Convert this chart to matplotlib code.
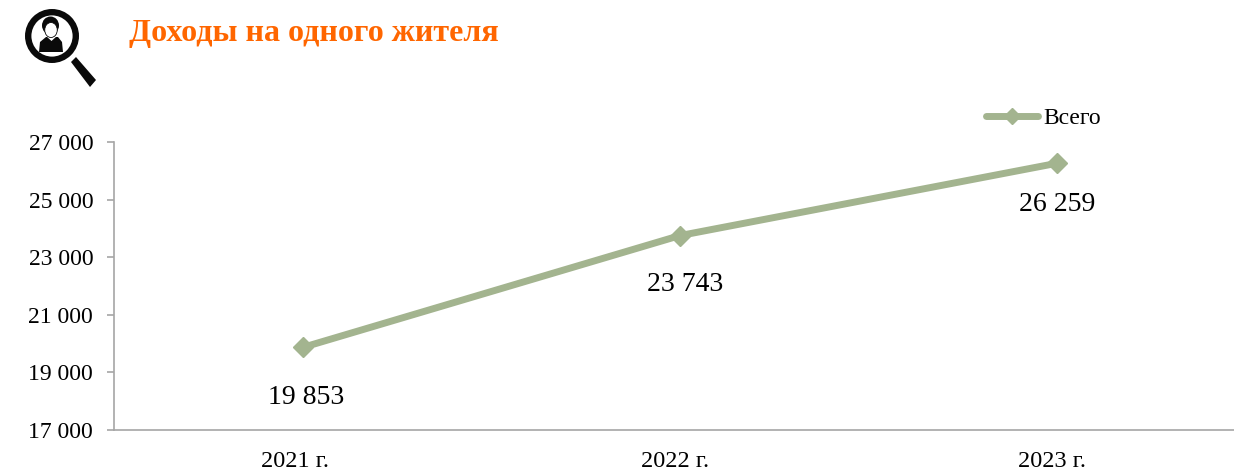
import matplotlib
matplotlib.use("Agg")
import matplotlib.pyplot as plt
from matplotlib.patches import Circle, Polygon, Ellipse
from matplotlib.ticker import FuncFormatter, FixedLocator
from matplotlib.transforms import ScaledTranslation

categories = ["2021 г.", "2022 г.", "2023 г."]
values = [19853, 23743, 26259]
y_ticks = [17000, 19000, 21000, 23000, 25000, 27000]
series_name = "Всего"
title = "Доходы на одного жителя"

W, H = 1234, 472
GREEN = "#A3B48F"
GREY = "#A6A6A6"
plt.rcParams["font.family"] = ["Liberation Serif", "DejaVu Serif"]

fig = plt.figure(figsize=(W / 100, H / 100), dpi=100, facecolor="white")
L, R, T, B = 114, 1234, 142, 429.5
ax = fig.add_axes([L / W, 1 - B / H, (R - L) / W, (B - T) / H])

xs = list(range(len(categories)))
line, = ax.plot(xs, values, color=GREEN, lw=5, marker="D", ms=10,
                solid_capstyle="round", solid_joinstyle="round", clip_on=False, label=series_name)

label_offsets = [(4, -38), (5, -36), (0, -29)]
for x, v, off in zip(xs, values, label_offsets):
    ax.annotate(f"{v:,}".replace(",", " "), (x, v), xytext=off, textcoords="offset pixels",
                ha="center", va="top", fontsize=20, color="black")

ax.set_xlim(-0.5, 2.47)
ax.set_ylim(17000, 27000)
ax.yaxis.set_major_locator(FixedLocator(y_ticks))
ax.yaxis.set_major_formatter(FuncFormatter(lambda v, _: f"{int(v):,}".replace(",", " ")))
ax.set_xticks(xs, categories)
for s in ("top", "right"):
    ax.spines[s].set_visible(False)
for s in ("left", "bottom"):
    ax.spines[s].set_color(GREY)
    ax.spines[s].set_linewidth(1.2)
ax.tick_params(axis="y", labelsize=17, length=5, width=1.2, color=GREY, pad=10, labelcolor="black")
ax.tick_params(axis="x", labelsize=17.5, length=0, pad=15.5, labelcolor="black")
for lab, dx in zip(ax.get_xticklabels(), [-8, -5, -5]):
    lab.set_transform(lab.get_transform() + ScaledTranslation(dx / 100, 0, fig.dpi_scale_trans))

fig.legend(handles=[line], labels=[series_name], loc="center left",
           bbox_to_anchor=(986 / W, 1 - 118 / H), frameon=False, fontsize=17,
           handlelength=2.2, handletextpad=0.22, borderpad=0, borderaxespad=0, markerscale=0.85)

fig.text(129 / W, 1 - 34 / H, title, color="#FF6600", fontsize=23, fontweight="bold",
         ha="left", va="center")

# magnifier icon with a person inside (pixel coordinates)
ic = fig.add_axes([0, 0, 1, 1], facecolor="none")
ic.set_xlim(0, W)
ic.set_ylim(H, 0)
ic.axis("off")
DARK = "#0a0a0a"
ic.add_patch(Circle((52, 36), 23.8, fc="white", ec=DARK, lw=4.6))
ic.add_patch(Polygon([(71, 62), (76, 57), (96, 80), (90, 87)], fc=DARK, ec="none"))
ic.add_patch(Polygon([(39, 52), (40, 42), (46, 37), (58, 37), (62, 42), (63, 52)], fc=DARK, ec="none"))
ic.add_patch(Polygon([(46, 36), (51.5, 41), (57, 36)], fc="white", ec="none"))
ic.add_patch(Ellipse((50.5, 25.5), 17, 18, fc=DARK, ec="none"))
ic.add_patch(Ellipse((51, 30), 12.5, 15, fc="white", ec=DARK, lw=0.6))

fig.savefig("out.png", dpi=100, facecolor="white")
